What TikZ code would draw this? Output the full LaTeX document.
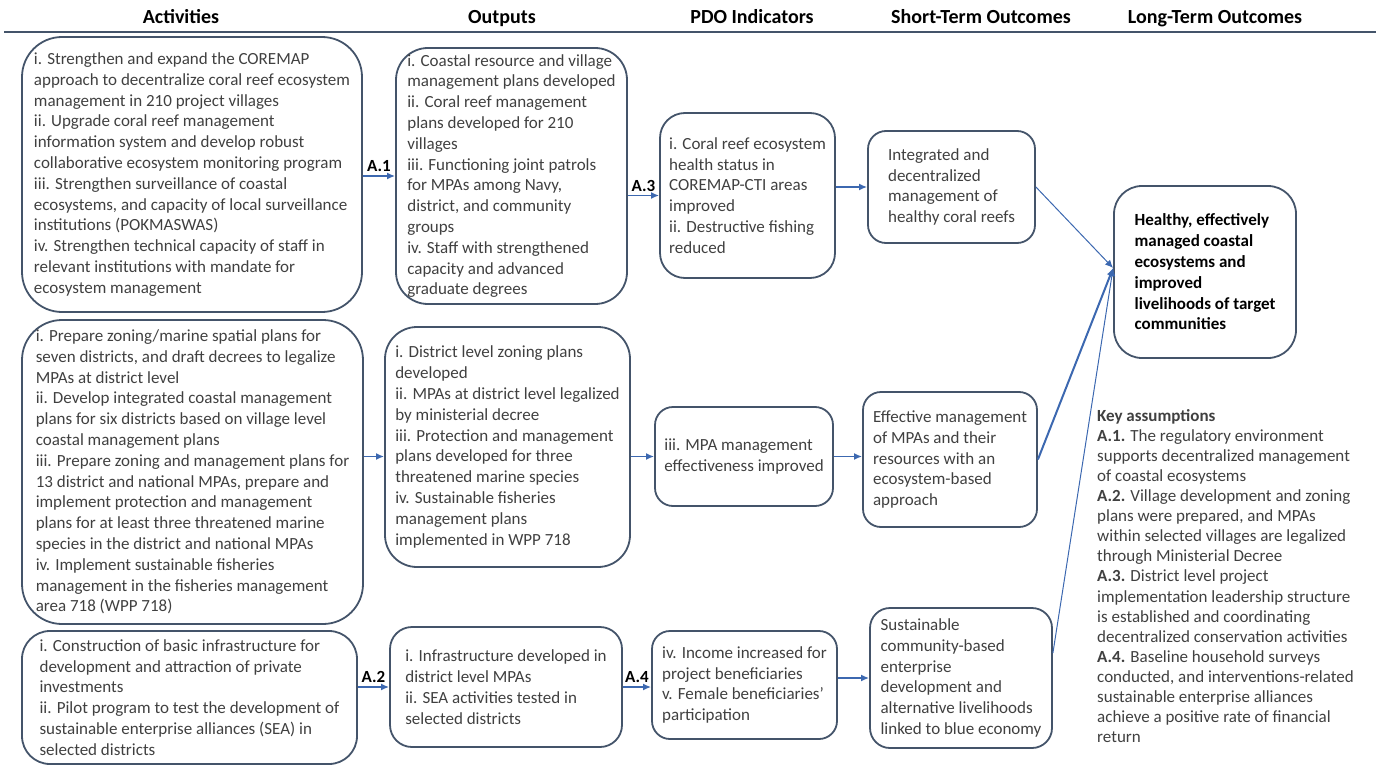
\documentclass[tikz,border=0pt]{standalone}
\usepackage{fontspec}
\setmainfont{Carlito}
\usepackage{tikz}
\usetikzlibrary{arrows.meta}
\definecolor{boxline}{HTML}{44546A}
\definecolor{flow}{HTML}{3C68B0}
\definecolor{bodytext}{HTML}{404040}

\begin{document}
\begin{tikzpicture}[x=1pt, y=-1pt,
    every node/.style={font=\fontsize{17}{20.8}\selectfont, text=bodytext},
    stage/.style={draw=boxline, line width=1.8pt, align=left, inner sep=0pt},
    heading/.style={anchor=base, font=\fontsize{20}{24}\selectfont\bfseries, text=black},
    flowarrow/.style={draw=flow, line width=1.6pt, -{Latex[length=8pt,width=7pt]}},
    tag/.style={above, font=\fontsize{17}{20.8}\selectfont\bfseries, text=black}]
    \useasboundingbox (0,0) rectangle (1380,765);

    % Column headings
    \node[heading] (hact) at (181,24) {Activities};
    \node[heading] (hout) at (502,24) {Outputs};
    \node[heading] (hpdo) at (752,24) {PDO Indicators};
    \node[heading] (hst) at (981,24) {Short-Term Outcomes};
    \node[heading] (hlt) at (1215,24) {Long-Term Outcomes};
    \draw[boxline, line width=2.5pt] (4,32) -- (1376,32);

    % Activities
    \node[stage, rounded corners=40pt, minimum width=340pt, minimum height=275pt] (act1) at (192,174.5) {i. Strengthen and expand the COREMAP\\approach to decentralize coral reef ecosystem\\management in 210 project villages\\ii. Upgrade coral reef management\\information system and develop robust\\collaborative ecosystem monitoring program\\iii. Strengthen surveillance of coastal\\ecosystems, and capacity of local surveillance\\institutions (POKMASWAS)\\iv. Strengthen technical capacity of staff in\\relevant institutions with mandate for\\ecosystem management};
    \node[stage, rounded corners=40pt, minimum width=341pt, minimum height=304pt] (act2) at (192.5,472) {i. Prepare zoning/marine spatial plans for\\seven districts, and draft decrees to legalize\\MPAs at district level\\ii. Develop integrated coastal management\\plans for six districts based on village level\\coastal management plans\\iii. Prepare zoning and management plans for\\13 district and national MPAs, prepare and\\implement protection and management\\plans for at least three threatened marine\\species in the district and national MPAs\\iv. Implement sustainable fisheries\\management in the fisheries management\\area 718 (WPP 718)};
    \node[stage, rounded corners=28pt, minimum width=335pt, minimum height=133pt] (act3) at (189.5,697.5) {i. Construction of basic infrastructure for\\development and attraction of private\\investments\\ii. Pilot program to test the development of\\sustainable enterprise alliances (SEA) in\\selected districts};

    % Outputs
    \node[stage, rounded corners=32pt, minimum width=231pt, minimum height=256pt] (out1) at (511.5,176) {i. Coastal resource and village\\management plans developed\\ii. Coral reef management\\plans developed for 210\\villages\\iii. Functioning joint patrols\\for MPAs among Navy,\\district, and community\\groups\\iv. Staff with strengthened\\capacity and advanced\\graduate degrees};
    \node[stage, rounded corners=32pt, minimum width=245pt, minimum height=240pt] (out2) at (507.5,447) {i. District level zoning plans\\developed\\ii. MPAs at district level legalized\\by ministerial decree\\iii. Protection and management\\plans developed for three\\threatened marine species\\iv. Sustainable fisheries\\management plans\\implemented in WPP 718};
    \node[stage, rounded corners=22pt, minimum width=232pt, minimum height=120pt] (out3) at (506,687) {i. Infrastructure developed in\\district level MPAs\\ii. SEA activities tested in\\selected districts};

    % PDO indicators
    \node[stage, rounded corners=25pt, minimum width=175pt, minimum height=165pt] (pdo1) at (747.5,195.5) {i. Coral reef ecosystem\\health status in\\COREMAP-CTI areas\\improved\\ii. Destructive fishing\\reduced};
    \node[stage, rounded corners=18pt, minimum width=178pt, minimum height=99pt] (pdo2) at (744,456.5) {iii. MPA management\\effectiveness improved};
    \node[stage, rounded corners=18pt, minimum width=185pt, minimum height=108pt] (pdo3) at (744.5,685) {iv. Income increased for\\project beneficiaries\\v. Female beneficiaries'\\participation};

    % Short-term outcomes
    \node[stage, rounded corners=18pt, minimum width=167pt, minimum height=112pt] (st1) at (951.5,187) {Integrated and\\decentralized\\management of\\healthy coral reefs};
    \node[stage, rounded corners=18pt, minimum width=174pt, minimum height=135pt] (st2) at (950,459.5) {Effective management\\of MPAs and their\\resources with an\\ecosystem-based\\approach};
    \node[stage, rounded corners=20pt, minimum width=182pt, minimum height=140pt] (st3) at (961,678) {Sustainable\\community-based\\enterprise\\development and\\alternative livelihoods\\linked to blue economy};

    % Long-term outcome
    \node[stage, rounded corners=28pt, minimum width=182pt, minimum height=172pt, font=\fontsize{17}{20.8}\selectfont\bfseries, text=black] (lt) at (1205,272) {Healthy, effectively\\managed coastal\\ecosystems and\\improved\\livelihoods of target\\communities};

    % Assumptions
    \node[align=left, inner sep=0pt, anchor=north west, font=\fontsize{17}{20.1}\selectfont] (keys) at (1097,409) {\textbf{Key assumptions}\\\textbf{A.1.} The regulatory environment\\supports decentralized management\\of coastal ecosystems\\\textbf{A.2.} Village development and zoning\\plans were prepared, and MPAs\\within selected villages are legalized\\through Ministerial Decree\\\textbf{A.3.} District level project\\implementation leadership structure\\is established and coordinating\\decentralized conservation activities\\\textbf{A.4.} Baseline household surveys\\conducted, and interventions-related\\sustainable enterprise alliances\\achieve a positive rate of financial\\return};

    % Arrows between columns
    \draw[flowarrow] (act1.east |- out1.west) -- node[tag] (a1) {A.1} (out1.west);
    \draw[flowarrow] (act2.east |- pdo2.west) -- (out2.west |- pdo2.west);
    \draw[flowarrow] (act3.east |- out3.west) -- node[tag] (a2) {A.2} (out3.west);
    \draw[flowarrow] (out1.east |- pdo1.west) -- node[tag] (a3) {A.3} (pdo1.west);
    \draw[flowarrow] (out2.east |- pdo2.west) -- (pdo2.west);
    \draw[flowarrow] (out3.east) -- node[tag] (a4) {A.4} (out3.east -| pdo3.west);
    \draw[flowarrow] (pdo1.east |- st1.west) -- (st1.west);
    \draw[flowarrow] (pdo2.east) -- (pdo2.east -| st2.west);
    \draw[flowarrow] (pdo3.east |- st3.west) -- (st3.west);

    % Into the long-term outcome
    \draw[flowarrow, line width=1pt] (st1.east) -- ([yshift=4pt]lt.west);
    \draw[flowarrow, line width=2pt] (st2.east) -- ([yshift=4pt]lt.west);
    \draw[flowarrow, line width=1pt] ([yshift=25pt]st3.east) -- ([yshift=4pt]lt.west);
\end{tikzpicture}
\end{document}
